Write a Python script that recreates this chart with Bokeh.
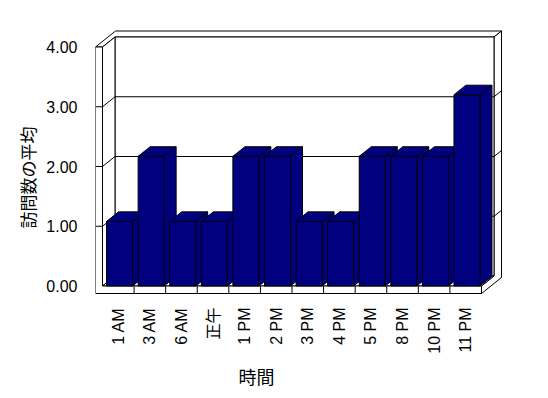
import math
from bokeh.plotting import figure
from bokeh.models import Range1d, FixedTicker, PrintfTickFormatter, Title
from bokeh.embed import file_html
from bokeh.resources import INLINE

# ---- data ----
categories = ["1 AM", "3 AM", "6 AM", "正午", "1 PM", "2 PM", "3 PM", "4 PM",
              "5 PM", "8 PM", "10 PM", "11 PM"]
values = [1.08, 2.17, 1.08, 1.08, 2.17, 2.17, 1.08, 1.08, 2.17, 2.17, 2.17, 3.2]
y_ticks = [0, 1, 2, 3, 4]
y_title = "訪問数の平均"
x_title = "時間"

# ---- layout (pixels) ----
W, H = 548, 398
FL, FR, FT, FB = 95, 505, 20, 294          # frame edges in pixels
X0_PX = 102.0                               # left edge of first slot (front plane)
SLOT_PX = 379.0 / 12                        # slot width (front plane)
Y0_PX = 285.5                               # value 0 (front plane)
UNIT_PX = 59.75                             # pixels per value unit


def xd(px):
    return (px - X0_PX) / SLOT_PX - 0.5


def yd(py):
    return (Y0_PX - py) / UNIT_PX


DEPTH_RATIO = 0.8
D_IN, D_OUT, D_BAR = 12.5, 20.0, 12.0
N = len(categories)
VMAX = max(y_ticks)
XL = -0.5                      # inner left wall
XR = N - 0.5                   # right end
WALL = 7.0 / SLOT_PX
FLOOR = 7.5 / UNIT_PX
BAR_W = 26.0 / SLOT_PX


def P(X, V, d):
    return (X + d / SLOT_PX, V + d * DEPTH_RATIO / UNIT_PX)


def poly(pts):
    return [q[0] for q in pts], [q[1] for q in pts]


p = figure(width=W, height=H,
           x_range=Range1d(xd(FL), xd(FR)), y_range=Range1d(yd(FB), yd(FT)),
           min_border_left=FL, min_border_right=W - FR,
           min_border_top=FT, min_border_bottom=H - FB,
           output_backend="svg", toolbar_location=None)
p.outline_line_color = None
p.xgrid.visible = False
p.ygrid.visible = False
p.background_fill_color = "white"
p.border_fill_color = "white"

# ---- walls ----
walls = [
    [P(XL - WALL, VMAX, 0), P(XL - WALL, VMAX, D_OUT), P(XR, VMAX, D_OUT),
     P(XR, VMAX, D_IN), P(XL, VMAX, D_IN), P(XL, VMAX, 0)],
    [P(XR, -FLOOR, 0), P(XR, -FLOOR, D_OUT), P(XR, VMAX, D_OUT),
     P(XR, VMAX, D_IN), P(XR, 0, D_IN), P(XR, 0, 0)],
    [P(XL, 0, D_IN), P(XR, 0, D_IN), P(XR, VMAX, D_IN), P(XL, VMAX, D_IN)],
    [P(XL, 0, 0), P(XL, VMAX, 0), P(XL, VMAX, D_IN), P(XL, 0, D_IN)],
    [P(XL, 0, 0), P(XR, 0, 0), P(XR, 0, D_IN), P(XL, 0, D_IN)],
    [P(XL - WALL, -FLOOR, 0), P(XL - WALL, VMAX, 0), P(XL, VMAX, 0),
     P(XL, 0, 0), P(XR, 0, 0), P(XR, -FLOOR, 0)],
]
wx, wy = zip(*[poly(w) for w in walls])
p.patches(list(wx), list(wy), fill_color="white", line_color="black", line_width=1)

gx, gy = [], []
for v in y_ticks[1:-1]:
    a, b = poly([P(XL - WALL, v, 0), P(XL, v, 0), P(XL, v, D_IN),
                 P(XR, v, D_IN), P(XR, v, D_OUT)])
    gx.append(a)
    gy.append(b)
for k in range(1, N):
    a, b = poly([P(k - 0.5, -FLOOR, 0), P(k - 0.5, 0, 0)])
    gx.append(a)
    gy.append(b)
p.multi_line(gx, gy, line_color="black", line_width=1)

# ---- bars ----
bx, by = [], []
for i, v in enumerate(values):
    x0 = i - BAR_W / 2 + 0.04
    x1 = x0 + BAR_W
    side = [P(x1, 0, 0), P(x1, 0, D_BAR), P(x1, v, D_BAR), P(x1, v, 0)]
    top = [P(x0, v, 0), P(x1, v, 0), P(x1, v, D_BAR), P(x0, v, D_BAR)]
    front = [P(x0, 0, 0), P(x1, 0, 0), P(x1, v, 0), P(x0, v, 0)]
    for f in (side, top, front):
        a, b = poly(f)
        bx.append(a)
        by.append(b)
p.patches(bx, by, fill_color="#000080", line_color="black", line_width=1)

# ---- axes ----
TICK_FONT = "Liberation Sans, Noto Sans CJK JP"
p.yaxis.ticker = FixedTicker(ticks=y_ticks)
p.yaxis.formatter = PrintfTickFormatter(format="%.2f")
p.yaxis.axis_line_color = None
p.yaxis.major_tick_line_color = None
p.yaxis.minor_tick_line_color = None
p.yaxis.major_label_standoff = 12
p.yaxis.major_label_text_font = TICK_FONT
p.yaxis.major_label_text_font_size = "16px"
p.yaxis.major_label_text_color = "black"

p.xaxis.ticker = FixedTicker(ticks=list(range(N)))
p.xaxis.major_label_overrides = {i: c for i, c in enumerate(categories)}
p.xaxis.major_label_orientation = math.pi / 2
p.xaxis.axis_line_color = None
p.xaxis.major_tick_line_color = None
p.xaxis.minor_tick_line_color = None
p.xaxis.major_label_standoff = 7
p.xaxis.major_label_text_font = TICK_FONT
p.xaxis.major_label_text_font_size = "16px"
p.xaxis.major_label_text_color = "black"

p.add_layout(Title(text=y_title, align="left", offset=66, standoff=8,
                   text_font="Noto Sans CJK JP", text_font_size="17px",
                   text_font_style="normal", text_color="black"), "left")
p.add_layout(Title(text=x_title, align="left", offset=143, standoff=8,
                   text_font="Noto Sans CJK JP", text_font_size="18px",
                   text_font_style="normal", text_color="black"), "below")

open("out.html", "w").write(file_html(p, INLINE))
